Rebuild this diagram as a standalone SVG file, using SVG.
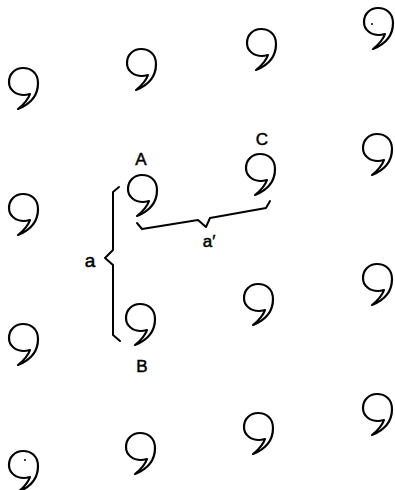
<svg xmlns="http://www.w3.org/2000/svg" width="395" height="490" viewBox="0 0 395 490">
<style>
.c{fill:#fff;stroke:#000;stroke-width:2.2;stroke-linejoin:round}
.br{fill:none;stroke:#000;stroke-width:2;stroke-linejoin:round;stroke-linecap:round}
.t{font-family:"Liberation Sans",Arial,sans-serif;font-size:17px;fill:#000;stroke:#000;stroke-width:0.5;text-anchor:middle}
.dot{fill:#000}
</style>
<defs>
<path id="comma" class="c" d="M10,42 C20,38 30,30 30,16 C30,6 23,1 15,1 C7,1 1,7 1,15 C1,23 8,28 16,28 C18,28 20,27.5 22,27 C20,33 15,38 10,42 Z"/>
</defs>
<rect width="395" height="490" fill="#fff"/>
<g id="n1"><use href="#comma" x="8" y="67"/></g>
<g id="n2"><use href="#comma" x="126" y="48"/></g>
<g id="n3"><use href="#comma" x="246" y="28"/></g>
<g id="n4"><use href="#comma" x="363" y="7"/><circle class="dot" cx="372" cy="24" r="1"/></g>
<g id="n5"><use href="#comma" x="8" y="193"/></g>
<g id="A"><use href="#comma" x="127" y="174"/><text class="t" x="141" y="165">A</text></g>
<g id="C"><use href="#comma" x="245" y="153"/><text class="t" x="262" y="145">C</text></g>
<g id="n8"><use href="#comma" x="362" y="133"/></g>
<g id="n9"><use href="#comma" x="8" y="323"/></g>
<g id="B"><use href="#comma" x="125" y="303"/><text class="t" x="142" y="372">B</text></g>
<g id="n11"><use href="#comma" x="243" y="283"/></g>
<g id="n12"><use href="#comma" x="362" y="263"/></g>
<g id="n13"><use href="#comma" x="8" y="450"/><circle class="dot" cx="25" cy="460" r="1"/></g>
<g id="n14"><use href="#comma" x="125" y="432"/></g>
<g id="n15"><use href="#comma" x="243" y="412"/></g>
<g id="n16"><use href="#comma" x="362" y="393"/></g>
<g id="connectors">
<path class="br" d="M119,187 L113,192 L113,250 L105,258 L113,265 L113,335 L120,341"/>
<path class="br" d="M137,223 L142,229 L198,220 L206,227 L210,218 L266,208 L270,201"/>
<text class="t" x="90" y="267" style="font-size:19px">a</text>
<text class="t" x="209" y="247">a′</text>
</g>
</svg>
